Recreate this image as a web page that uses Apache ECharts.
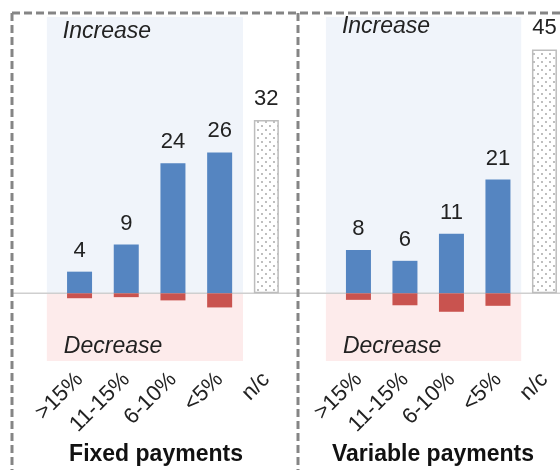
<!DOCTYPE html>
<html>
<head>
<meta charset="utf-8">
<script src="https://cdn.jsdelivr.net/npm/echarts@6/dist/echarts.min.js"></script>
<style>
html,body{margin:0;padding:0;background:#fff;}
#main{width:560px;height:470px;}
</style>
</head>
<body>
<div id="main"></div>
<script>
// ---- data ----
const categories = ['>15%', '11-15%', '6-10%', '<5%', 'n/c'];
const fixedIncrease = [4, 9, 24, 26];
const fixedDecrease = [-0.9, -0.7, -1.3, -2.6];
const fixedNc = 32;
const variableIncrease = [8, 6, 11, 21];
const variableDecrease = [-1.2, -2.2, -3.4, -2.3];
const variableNc = 45;
const panelTitles = ['Fixed payments', 'Variable payments'];
const zoneLabels = ['Increase', 'Decrease'];

// ---- styles ----
const FONT = 'Liberation Sans, Arial, sans-serif';
const BLUE = '#5585C1';
const RED = '#C9534F';
const Y_MIN = -12.5, Y_MAX = 51;

function dotPattern() {
  const c = document.createElement('canvas');
  c.width = 8; c.height = 8;
  const g = c.getContext('2d');
  g.fillStyle = '#ffffff';
  g.fillRect(0, 0, 8, 8);
  g.fillStyle = '#a0a0a0';
  g.beginPath(); g.arc(2, 2, 0.9, 0, Math.PI * 2); g.fill();
  g.beginPath(); g.arc(6, 6, 0.9, 0, Math.PI * 2); g.fill();
  return { image: c, repeat: 'repeat' };
}
const pattern = dotPattern();

const panels = [
  { inc: fixedIncrease, dec: fixedDecrease, nc: fixedNc },
  { inc: variableIncrease, dec: variableDecrease, nc: variableNc }
];

const grids = [
  { left: 56.2, width: 233.5, top: 16.9, bottom: 108.9, outerBoundsMode: 'none', containLabel: false },
  { left: 335.2, width: 232.5, top: 16.9, bottom: 108.9, outerBoundsMode: 'none', containLabel: false }
];

const xAxes = grids.map((g, i) => ({
  type: 'category', gridIndex: i, data: categories,
  axisLine: { show: false }, axisTick: { show: false },
  axisLabel: { rotate: 45, fontSize: 22, color: '#222', fontFamily: FONT, margin: 15, interval: 0, hideOverlap: false }
}));
const yAxes = grids.map((g, i) => ({
  type: 'value', gridIndex: i, min: Y_MIN, max: Y_MAX, show: false,
  splitLine: { show: false }
}));

const series = [];
panels.forEach((p, i) => {
  const labelStyle = { show: true, position: 'top', distance: 10, fontSize: 22, color: '#222', fontFamily: FONT };
  series.push({
    type: 'bar', xAxisIndex: i, yAxisIndex: i, barWidth: 25, barGap: '-100%', z: 3,
    data: p.inc.concat(['-']),
    itemStyle: { color: BLUE }, label: labelStyle
  });
  series.push({
    type: 'bar', xAxisIndex: i, yAxisIndex: i, barWidth: 25, barGap: '-100%', z: 3,
    data: p.dec.concat(['-']),
    itemStyle: { color: RED }
  });
  series.push({
    type: 'bar', xAxisIndex: i, yAxisIndex: i, barWidth: 25, barGap: '-100%', z: 3,
    data: ['-', '-', '-', '-', p.nc],
    itemStyle: { color: pattern, borderColor: '#bdbdbd', borderWidth: 1.5 },
    label: labelStyle
  });
});

const chart = echarts.init(document.getElementById('main'), null, { renderer: 'canvas' });
chart.setOption({
  backgroundColor: '#ffffff',
  animation: false,
  grid: grids,
  xAxis: xAxes,
  yAxis: yAxes,
  series: series
});

// ---- decorations computed from the axes ----
const elements = [];
const incTextY = [32, 27];
[0, 1].forEach(i => {
  const c0 = chart.convertToPixel({ xAxisIndex: i }, 0);
  const c1 = chart.convertToPixel({ xAxisIndex: i }, 1);
  const c3 = chart.convertToPixel({ xAxisIndex: i }, 3);
  const band = c1 - c0;
  const yTop = chart.convertToPixel({ yAxisIndex: i }, Y_MAX);
  const yZero = chart.convertToPixel({ yAxisIndex: i }, 0);
  const yBot = chart.convertToPixel({ yAxisIndex: i }, Y_MIN);
  const x0 = c0 - band * 0.7;
  const x1 = c3 + band * 0.5;
  elements.push({ type: 'rect', z: -20, shape: { x: x0, y: yTop, width: x1 - x0, height: yZero - yTop }, style: { fill: '#F0F4FA' } });
  elements.push({ type: 'rect', z: -20, shape: { x: x0, y: yZero, width: x1 - x0, height: yBot - yZero }, style: { fill: '#FDEBEB' } });
  elements.push({ type: 'text', z: 10, x: x0 + 16, y: incTextY[i], style: { text: zoneLabels[0], font: 'italic 23px ' + FONT, fill: '#222', verticalAlign: 'middle' } });
  elements.push({ type: 'text', z: 10, x: x0 + 17, y: 347, style: { text: zoneLabels[1], font: 'italic 23px ' + FONT, fill: '#222', verticalAlign: 'middle' } });
});
const yZero0 = chart.convertToPixel({ yAxisIndex: 0 }, 0);
elements.push({ type: 'line', z: -5, shape: { x1: 13, y1: yZero0, x2: 560, y2: yZero0 }, style: { stroke: '#cfcfcf', lineWidth: 1.5 } });
// dashed frames
const dash = { stroke: '#858585', lineWidth: 3, lineDash: [8, 4] };
elements.push({ type: 'line', z: 20, shape: { x1: 12, y1: 13, x2: 296, y2: 13 }, style: dash });
elements.push({ type: 'line', z: 20, shape: { x1: 300, y1: 13, x2: 560, y2: 13 }, style: dash });
elements.push({ type: 'line', z: 20, shape: { x1: 12, y1: 13, x2: 12, y2: 470 }, style: dash });
elements.push({ type: 'line', z: 20, shape: { x1: 298, y1: 13, x2: 298, y2: 470 }, style: dash });
// panel titles
[156, 433].forEach((cx, i) => {
  elements.push({ type: 'text', z: 10, x: cx, y: 455, style: { text: panelTitles[i], font: 'bold 23px ' + FONT, fill: '#111', align: 'center', verticalAlign: 'middle' } });
});
chart.setOption({ graphic: { elements: elements } });
</script>
</body>
</html>
